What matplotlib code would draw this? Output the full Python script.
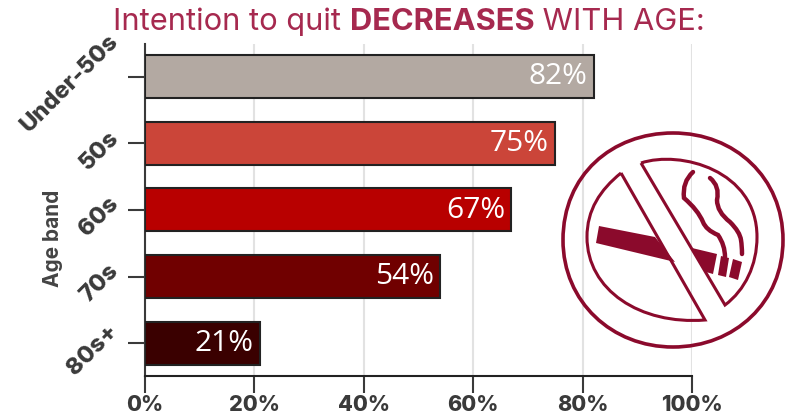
import matplotlib
matplotlib.use("Agg")
import matplotlib.pyplot as plt
from matplotlib.path import Path
from matplotlib.patches import PathPatch, Polygon
from matplotlib.transforms import ScaledTranslation

# Data
age_bands = ["Under-50s", "50s", "60s", "70s", "80s+"]
intention = [82, 75, 67, 54, 21]
bar_colors = ["#b3a9a2", "#cb4539", "#b80000", "#700000", "#3a0000"]
x_ticks = [0, 20, 40, 60, 80, 100]

W, H = 789, 419
DARK = "#3a3a3a"
TITLE_COL = "#a6294f"
ICON_COL = "#8b0a2c"

plt.rcParams['font.family'] = ['Inter', 'DejaVu Sans']

fig = plt.figure(figsize=(W/100, H/100), dpi=100)
ax = fig.add_axes([145/W, 1-376/H, 547/W, 332/H])

ax.barh(age_bands, intention, height=0.645, color=bar_colors, edgecolor="#222222", linewidth=1.5, zorder=3)
ax.set_xlim(0, 100)
ax.set_ylim(4.49, -0.49)
ax.grid(axis="x", color="#e2e2e2", linewidth=1.5, zorder=0)
ax.set_axisbelow(True)

for s in ["top", "right"]:
    ax.spines[s].set_visible(False)
ax.spines["left"].set_linewidth(1.5)
ax.spines["left"].set_color(DARK)
ax.spines["bottom"].set_linewidth(1.5)
ax.spines["bottom"].set_color("#222222")

ax.set_xticks(x_ticks)
ax.set_xticklabels([f"{v}%" for v in x_ticks], fontsize=15.5, fontweight="heavy", color=DARK)
ax.tick_params(axis="x", length=12, width=1.5, color=DARK, pad=2)
ax.tick_params(axis="y", length=12, width=1.5, color=DARK, pad=4)
# labels sit a little below their ticks in the original
shift = ScaledTranslation(0, -7/100, fig.dpi_scale_trans)
for lab in ax.get_yticklabels():
    lab.set_rotation(45)
    lab.set_ha("right")
    lab.set_va("center")
    lab.set_fontsize(17)
    lab.set_fontweight("heavy")
    lab.set_color(DARK)
    lab.set_transform(lab.get_transform() + shift)

fig.text(53/W, 1-238/H, "Age band", rotation=90, ha="center", va="center",
         fontsize=15, fontweight="bold", color="#444444")

# value labels inside the bars
for i, v in enumerate(intention):
    ax.annotate(f"{v}%", (v, i), xytext=(-4.5, 0), textcoords="offset points",
                ha="right", va="center", color="white", fontsize=21.5,
                family=["Open Sans", "DejaVu Sans"], zorder=4)

# title, three pieces in a row
t1 = fig.text(113/W, 1-22/H, "Intention to quit ", fontsize=22.2, color=TITLE_COL, va="center")
t2 = plt.annotate("DECREASES", xy=(1, 0), xycoords=t1, va="bottom", fontsize=22.2,
                  fontweight="bold", color=TITLE_COL, annotation_clip=False)
t3 = plt.annotate(" WITH AGE:", xy=(1, 0), xycoords=t2, va="bottom", fontsize=22.2,
                  color=TITLE_COL, annotation_clip=False)

# no smoking icon, pixel coordinates on a see-through overlay
ov = fig.add_axes([0, 0, 1, 1], facecolor="none")
ov.set_xlim(0, W)
ov.set_ylim(H, 0)
ov.axis("off")

C4 = Path.CURVE4
C3 = Path.CURVE3
L = Path.LINETO
M = Path.MOVETO

ring = [(563, 240), (563, 175), (612, 133), (673, 133), (735, 133), (783, 178), (783, 240),
        (783, 302), (735, 347), (673, 347), (612, 347), (563, 302), (563, 240)]
ov.add_patch(PathPatch(Path(ring, [M] + [C4]*12), fill=False, edgecolor=ICON_COL, linewidth=2.6))

upper = [(641, 163), (680, 150), (757, 170), (757, 237), (757, 265), (745, 290), (725, 305), (641, 163)]
ov.add_patch(PathPatch(Path(upper, [M] + [C4]*6 + [L]), fill=False, edgecolor=ICON_COL, linewidth=2.2))

lower = [(621, 173), (600, 190), (587, 210), (587, 237), (587, 290), (640, 325), (705, 320), (621, 173)]
ov.add_patch(PathPatch(Path(lower, [M] + [C4]*6 + [L]), fill=False, edgecolor=ICON_COL, linewidth=2.2))

ov.add_patch(Polygon([(599, 226), (596, 243), (675, 262), (655, 237)], color=ICON_COL, lw=0))
ov.add_patch(Polygon([(692, 248), (717, 254), (713, 274), (706, 272)], color=ICON_COL, lw=0))
ov.add_patch(Polygon([(721, 256), (729, 258), (726, 277), (718, 275)], color=ICON_COL, lw=0))
ov.add_patch(Polygon([(733, 259), (742, 262), (738, 280), (729, 277)], color=ICON_COL, lw=0))

smoke1 = [(693, 172), (682, 182), (684, 198), (698, 210), (703, 222), (706, 230), (718, 235),
          (725, 245), (725, 257)]
smoke2 = [(710, 178), (720, 186), (717, 200), (717, 212), (730, 222), (740, 232), (741, 240),
          (742, 246), (742, 254)]
for pts in (smoke1, smoke2):
    ov.add_patch(PathPatch(Path(pts, [M] + [C3]*8), fill=False, edgecolor=ICON_COL,
                           linewidth=3.2, capstyle="round"))

fig.savefig("out.png", dpi=100)
